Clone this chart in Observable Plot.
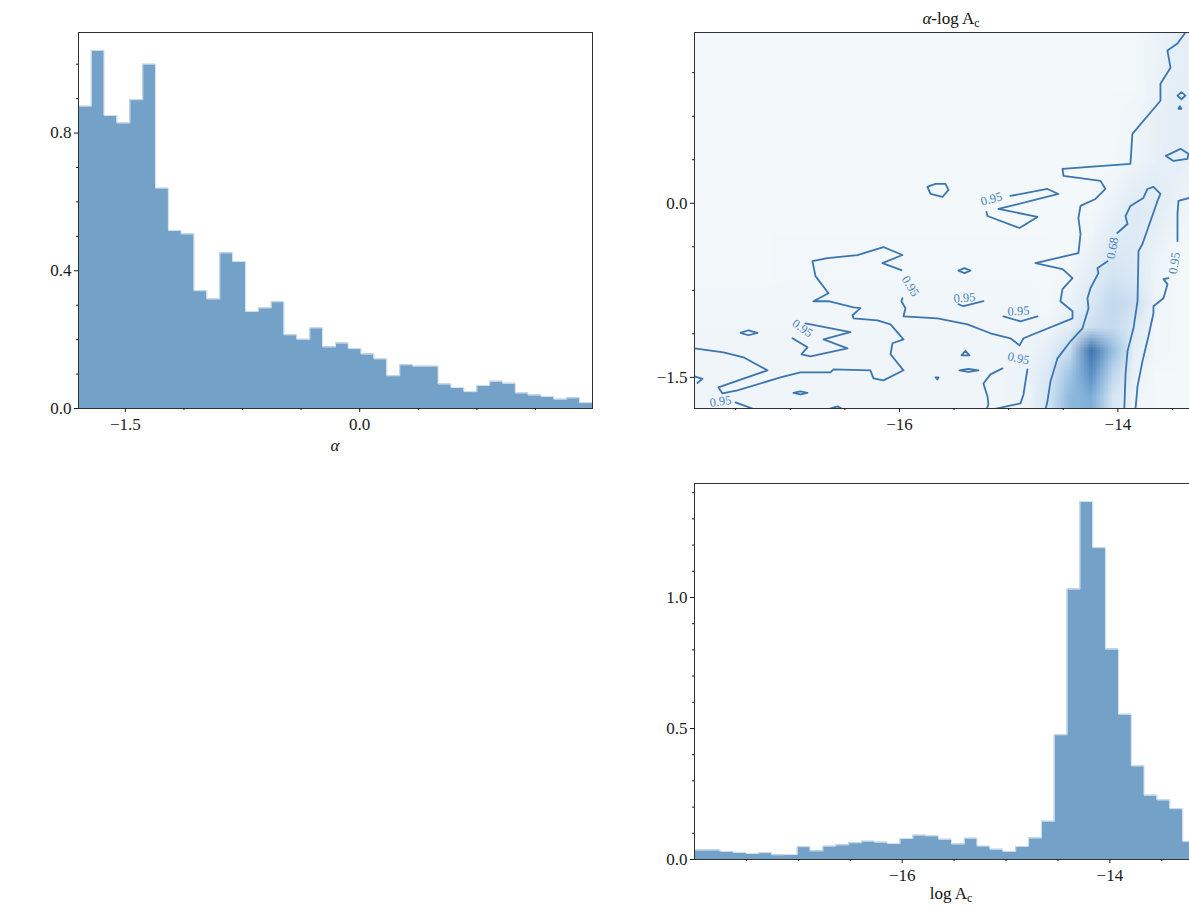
<!DOCTYPE html>
<html><head><meta charset="utf-8">
<script src="https://cdn.jsdelivr.net/npm/d3@7"></script>
<script src="https://cdn.jsdelivr.net/npm/@observablehq/plot@0.6"></script>
<style>
html,body{margin:0;padding:0;background:#fff;overflow:hidden;}
#wrap{position:relative;width:1240px;height:908px;font-family:"Liberation Serif",serif;color:#111;}
.panel{position:absolute;}
.lbl{position:absolute;font-size:17px;transform:translate(-50%,-50%);white-space:nowrap;line-height:1;}
.sub{font-size:0.7em;position:relative;top:0.25em;}
</style></head><body>
<div id="wrap">
<div id="tl" class="panel" style="left:0;top:0"></div>
<div id="tr" class="panel" style="left:640px;top:0"></div>
<div id="br" class="panel" style="left:640px;top:450px"></div>
<div class="lbl" style="left:335px;top:445px"><i>α</i></div>
<div class="lbl" style="left:951px;top:18px"><i>α</i>-log A<span class="sub">c</span></div>
<div class="lbl" style="left:951px;top:893px">log A<span class="sub">c</span></div>
</div>
<script>
// ---------- α marginal histogram ----------
const alphaDomain = [-1.8, 1.49];
const alphaDensity = [0.878,1.040,0.851,0.829,0.897,1.000,0.640,0.517,0.507,0.342,0.318,0.452,0.427,0.282,0.292,0.310,0.214,0.201,0.234,0.179,0.190,0.174,0.158,0.144,0.095,0.127,0.123,0.123,0.071,0.061,0.049,0.067,0.079,0.073,0.045,0.039,0.035,0.027,0.031,0.017];
const alphaDensityMax = 1.092;
const alphaTicks = [-1.5, 0.0];
const alphaMinorTicks = [-1.125, -0.75, -0.375, 0.375, 0.75, 1.125];
const alphaDensityTicks = [0, 0.4, 0.8];
const alphaDensityMinor = [0.1, 0.2, 0.3, 0.5, 0.6, 0.7, 0.9, 1.0];

// ---------- log A_c marginal histogram ----------
const logAcDomain = [-18.0, -13.05];
const logAcDensity = [0.036,0.036,0.031,0.027,0.023,0.026,0.018,0.019,0.049,0.033,0.051,0.056,0.064,0.070,0.066,0.061,0.080,0.093,0.090,0.077,0.059,0.081,0.051,0.039,0.031,0.050,0.082,0.146,0.476,1.032,1.366,1.190,0.803,0.554,0.357,0.245,0.227,0.194,0.069,0.060];
const logAcDensityMax = 1.435;
const logAcTicks = [-16, -14];
const logAcMinorTicks = [-17.5, -17, -16.5, -15.5, -15, -14.5, -13.5];
const logAcDensityTicks = [0, 0.5, 1.0];
const logAcDensityMinor = [0.1,0.2,0.3,0.4,0.6,0.7,0.8,0.9,1.1,1.2,1.3,1.4];

// ---------- joint α - log A_c panel ----------
const jointX = [-17.877, -13.17];
const jointY = [-1.768, 1.471];
const jointXTicks = [-16, -14];
const jointXMinor = [-17.5, -17, -16.5, -15.5, -15, -14.5, -13.5];
const jointYTicks = [-1.5, 0.0];
const jointYMinor = [-1.125, -0.75, -0.375, 0.375, 0.75, 1.125];

// density grid (rows top→bottom, 24 columns left→right), relative intensity
const densityGrid = [
 [0,0,0,0,0,0,0,0,0,0,0,0,0,0,0,0,0,0,0,0,0,.4,.8,.6],
 [0,0,0,0,0,0,0,0,0,0,0,0,0,0,0,0,0,0,0,0,0,.4,.8,.6],
 [0,0,0,0,0,0,0,0,0,0,0,0,0,0,0,0,0,0,0,0,0,.5,.9,.6],
 [0,0,0,0,0,0,0,0,0,0,0,0,0,0,0,0,0,0,0,0,.2,.6,.9,.6],
 [0,0,0,0,0,0,0,0,0,0,0,0,0,0,0,0,0,0,0,0,.2,.6,.9,.6],
 [0,0,0,0,0,0,0,0,0,0,0,0,0,0,0,0,0,0,0,0,.3,.7,.8,.5],
 [0,0,0,0,0,0,0,0,0,0,0,0,0,0,0,0,0,0,0,.2,.8,1,.6,.3],
 [0,0,0,0,0,0,0,0,0,0,0,0,0,0,0,0,0,0,0,.5,1.2,1,.4,.2],
 [0,0,0,0,0,0,0,0,0,0,0,0,0,0,0,0,0,0,.2,1,1.2,.7,.2,0],
 [0,0,0,0,.1,.1,.1,.1,.1,.1,.1,.1,.1,.1,.1,.1,0,0,.6,1.4,1.2,.4,0,0],
 [0,0,0,0,.1,.1,.1,.1,.1,.1,.1,.1,.1,.1,.1,.1,0,.2,1,1.8,1.4,.3,0,0],
 [.2,.2,.2,.2,.2,.2,.2,.2,.2,.2,.2,.2,.2,.2,.2,.2,0,.5,1.4,2.4,2,.3,0,0],
 [.2,.2,.2,.2,.2,.2,.2,.2,.2,.2,.2,.2,.2,.2,.2,.2,.3,.9,2,2.3,1.2,.2,0,0],
 [.25,.25,.25,.25,.25,.25,.25,.25,.25,.25,.25,.25,.25,.25,.25,.3,.8,2.2,5.6,3.6,.8,.2,0,0],
 [.25,.25,.25,.25,.25,.25,.25,.25,.25,.25,.25,.25,.25,.25,.25,.4,1.4,3.3,5,2.5,.6,0,0,0],
 [.25,.25,.25,.25,.25,.25,.25,.25,.25,.25,.25,.25,.25,.25,.25,.4,1.7,3.8,4.2,1.6,.3,0,0,0]
];
const densityLevels = [0, 1, 2, 3, 4, 5, 6];
const densityColors = ["#f3f8fa", "#e2edf7", "#cde0f1", "#aecde8", "#86b5dc", "#5890c6", "#2c5f9e"];

// credible-region contour paths [log A_c, α]
const contourPaths = [
 [[-17.877,-1.250],[-17.612,-1.284],[-17.429,-1.327],[-17.209,-1.439],[-17.658,-1.586],[-17.621,-1.638],[-17.484,-1.612],[-17.090,-1.500],[-16.907,-1.457],[-16.632,-1.457],[-16.604,-1.431],[-16.266,-1.439],[-16.238,-1.508],[-16.147,-1.526],[-15.963,-1.439],[-16.082,-1.301],[-16.064,-1.206],[-15.963,-1.172],[-16.082,-1.043],[-16.201,-1.008],[-16.421,-0.991],[-16.430,-0.965],[-16.357,-0.904],[-16.421,-0.896],[-16.650,-0.844],[-16.788,-0.844],[-16.650,-0.775],[-16.769,-0.628],[-16.797,-0.499],[-16.659,-0.473],[-16.385,-0.446],[-16.147,-0.377],[-15.973,-0.446],[-16.156,-0.516],[-15.982,-0.576]],
 [[-15.973,-0.818],[-15.982,-0.844],[-15.945,-0.904],[-15.963,-0.974],[-15.652,-0.991],[-15.377,-1.043],[-15.167,-1.120],[-14.984,-1.163],[-14.901,-1.224],[-14.864,-1.163],[-14.415,-0.991],[-14.415,-0.930],[-14.526,-0.844],[-14.507,-0.740],[-14.415,-0.645],[-14.507,-0.568],[-14.755,-0.516],[-14.361,-0.429],[-14.342,-0.265],[-14.361,-0.127],[-14.342,-0.023],[-14.205,0.037],[-14.114,0.123],[-14.159,0.193],[-14.498,0.236],[-14.507,0.296],[-13.885,0.339],[-13.867,0.598],[-13.610,0.883],[-13.610,1.030],[-13.518,1.168],[-13.546,1.315],[-13.454,1.376],[-13.381,1.471]],
 [[-13.344,0.046],[-13.445,0.020],[-13.454,-0.092],[-13.454,-0.326]],
 [[-13.537,-0.645],[-13.582,-0.654],[-13.546,-0.697],[-13.582,-0.818],[-13.674,-0.887],[-13.674,-0.947],[-13.720,-1.146],[-13.775,-1.362],[-13.820,-1.578],[-13.839,-1.776]],
 [[-15.203,-1.776],[-15.185,-1.733],[-15.194,-1.664],[-15.231,-1.552],[-15.167,-1.474],[-15.057,-1.422]],
 [[-14.828,-1.431],[-14.846,-1.535],[-14.864,-1.647],[-14.892,-1.724],[-15.148,-1.776]],
 [[-14.984,0.063],[-14.645,0.123],[-14.544,0.080],[-15.093,-0.049],[-14.736,-0.118],[-14.901,-0.213],[-15.194,-0.110],[-15.203,-0.075]],
 [[-15.744,0.141],[-15.670,0.167],[-15.579,0.167],[-15.551,0.115],[-15.606,0.054],[-15.716,0.080],[-15.744,0.141]],
 [[-15.460,-0.580],[-15.405,-0.559],[-15.350,-0.580],[-15.405,-0.602],[-15.460,-0.580]],
 [[-17.456,-1.116],[-17.383,-1.094],[-17.300,-1.116],[-17.383,-1.137],[-17.456,-1.116]],
 [[-16.861,-1.034],[-16.449,-1.111],[-16.696,-1.172],[-16.476,-1.250],[-16.815,-1.319],[-16.897,-1.301],[-16.843,-1.241],[-16.980,-1.163]],
 [[-15.460,-0.870],[-15.414,-0.887],[-15.231,-0.844]],
 [[-15.048,-0.974],[-14.892,-1.017],[-14.736,-0.974]],
 [[-16.971,-1.634],[-16.907,-1.621],[-16.843,-1.634],[-16.907,-1.647],[-16.971,-1.634]],
 [[-15.396,-1.271],[-15.359,-1.310],[-15.432,-1.310],[-15.396,-1.271]],
 [[-15.451,-1.439],[-15.368,-1.427],[-15.277,-1.439],[-15.368,-1.452],[-15.451,-1.439]],
 [[-15.670,-1.500],[-15.643,-1.500],[-15.652,-1.517],[-15.670,-1.500]],
 [[-17.877,-1.491],[-17.804,-1.513],[-17.850,-1.548]],
 [[-17.502,-1.716],[-17.346,-1.768]],
 [[-16.659,-1.776],[-16.568,-1.750],[-16.513,-1.776]],
 [[-13.454,0.927],[-13.418,0.957],[-13.381,0.927],[-13.418,0.896],[-13.454,0.927]],
 [[-13.445,0.814],[-13.418,0.814],[-13.432,0.836],[-13.445,0.814]],
 [[-13.560,0.408],[-13.427,0.469],[-13.354,0.426],[-13.363,0.383],[-13.491,0.365],[-13.560,0.408]],
 // 68% region
 [[-14.663,-1.776],[-14.645,-1.707],[-14.617,-1.535],[-14.553,-1.336],[-14.434,-1.189],[-14.324,-1.077],[-14.269,-0.904],[-14.278,-0.818],[-14.251,-0.732],[-14.178,-0.602],[-14.187,-0.559],[-14.095,-0.499]],
 [[-14.005,-0.256],[-13.912,-0.179],[-13.930,-0.110],[-13.885,-0.023],[-13.766,0.046],[-13.729,0.123],[-13.674,0.141],[-13.610,0.080],[-13.637,0.020],[-13.775,-0.351],[-13.811,-0.412],[-13.820,-0.844],[-13.857,-1.077],[-13.912,-1.276],[-13.930,-1.474],[-13.941,-1.776]]
];
const labelX = [-15.158, -15.899, -16.888, -15.405, -14.910, -14.910, -17.639, -14.049, -13.482];
const labelY = [0.037, -0.714, -1.077, -0.815, -0.929, -1.336, -1.707, -0.386, -0.516];
const labelText = ["0.95","0.95","0.95","0.95","0.95","0.95","0.95","0.68","0.95"];
const labelAngle = [-15, 58, 35, -5, -3, 12, -8, -80, -82];

// ---------- helpers ----------
const FONT = "Liberation Serif, serif";
const style = {fontFamily: FONT, fontSize: "17px", color: "#1a1a1a", background: "transparent", overflow: "visible"};
const fmt1 = d => (d < 0 ? "\u2212" : "") + Math.abs(d).toFixed(1);
const fmt0 = d => (d < 0 ? "\u2212" : "") + Math.abs(d).toFixed(0);
const axes = (xt, xm, yt, ym, fx, fy) => [
  Plot.axisX({ticks: xt, tickSize: 4, tickPadding: 5, tickFormat: fx, label: null}),
  Plot.axisX({ticks: xm, tickSize: 2, tickFormat: () => "", label: null}),
  Plot.axisY({ticks: yt, tickSize: 4, tickPadding: 3, tickFormat: fy, label: null}),
  Plot.axisY({ticks: ym, tickSize: 2, tickFormat: () => "", label: null})
];
function histogram(values, domain, yMax, xt, xm, yt, ym, fx, fy, m) {
  const n = values.length, w = (domain[1] - domain[0]) / n;
  const steps = values.map((v, i) => ({x: domain[0] + i * w, v}));
  steps.push({x: domain[1], v: values[n - 1]});
  return Plot.plot({
    width: m.width, height: 460,
    marginLeft: m.left, marginRight: m.right, marginTop: m.top, marginBottom: 460 - m.top - 376,
    x: {domain}, y: {domain: [0, yMax]},
    style,
    marks: [
      Plot.areaY(steps, {x: "x", y: "v", curve: "step-after", fill: "#74a1c7"}),
      Plot.line(steps, {x: "x", y: "v", curve: "step-after", stroke: "#d3e2ef", strokeWidth: 1}),
      Plot.frame({stroke: "#333", strokeWidth: 1}),
      ...axes(xt, xm, yt, ym, fx, fy)
    ]
  });
}

document.getElementById("tl").append(histogram(alphaDensity, alphaDomain, alphaDensityMax,
  alphaTicks, alphaMinorTicks, alphaDensityTicks, alphaDensityMinor, fmt1, fmt1,
  {width: 640, left: 78, right: 48, top: 32}));

document.getElementById("br").append(histogram(logAcDensity, logAcDomain, logAcDensityMax,
  logAcTicks, logAcMinorTicks, logAcDensityTicks, logAcDensityMinor, fmt0, fmt1,
  {width: 588, left: 54, right: 20, top: 33}));

// joint panel
const gridFlat = densityGrid.flat();
const segs = [];
contourPaths.forEach((path, i) => path.forEach(([x, y]) => segs.push({x, y, id: i})));
const labels = labelText.map((t, i) => ({x: labelX[i], y: labelY[i], t, r: labelAngle[i]}));

document.getElementById("tr").append(Plot.plot({
  width: 588, height: 460, marginLeft: 54, marginRight: 20, marginTop: 32, marginBottom: 52,
  x: {domain: jointX}, y: {domain: jointY},
  color: {type: "linear", domain: densityLevels, range: densityColors, clamp: true},
  style,
  marks: [
    Plot.raster(gridFlat, {width: 24, height: 16, x1: jointX[0], x2: jointX[1], y1: jointY[1], y2: jointY[0], fill: d => d, imageRendering: "auto"}),
    Plot.line(segs, {x: "x", y: "y", z: "id", stroke: "#3b76b0", strokeWidth: 1.8, strokeLinejoin: "round", clip: true}),
    Plot.text(labels, {x: "x", y: "y", text: "t", rotate: "r", fill: "#4a83bd", fontSize: 12.5, fontFamily: FONT, clip: true}),
    Plot.frame({stroke: "#333", strokeWidth: 1}),
    ...axes(jointXTicks, jointXMinor, jointYTicks, jointYMinor, fmt0, fmt1)
  ]
}));
</script>
</body></html>
